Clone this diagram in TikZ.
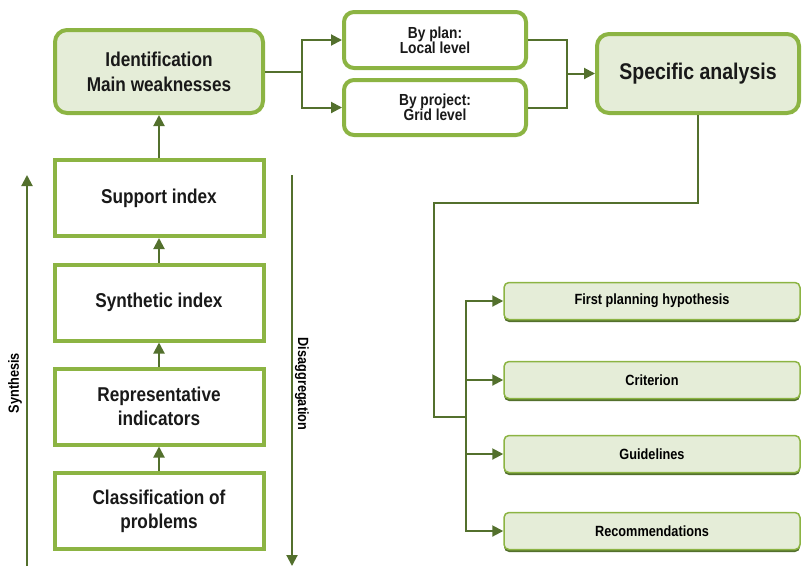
\documentclass[tikz,border=0pt]{standalone}
\usepackage{fontspec}
\setmainfont{Liberation Sans}[FakeStretch=0.86]
\usetikzlibrary{arrows.meta,shadows}
\definecolor{leaf}{HTML}{8CB443}
\definecolor{pale}{HTML}{E5EDD8}
\definecolor{moss}{HTML}{53702D}
\tikzset{
  box/.style={draw=leaf,line width=4pt,align=center,inner sep=0pt,text=black!90,font=\bfseries\fontsize{20}{24}\selectfont},
  softbox/.style={box,rounded corners=12pt,fill=pale},
  stackbox/.style={box,fill=white,minimum width=209pt,minimum height=76pt},
  levelbox/.style={box,rounded corners=10pt,fill=white,minimum width=182pt,minimum height=56pt,font=\bfseries\fontsize{16}{15}\selectfont},
  taskbox/.style={draw=leaf,line width=1.5pt,rounded corners=5pt,fill=pale,minimum width=296pt,minimum height=37pt,
    inner sep=0pt,font=\bfseries\fontsize{14.8}{15}\selectfont,
    drop shadow={shadow xshift=0pt,shadow yshift=-2.5pt,fill=moss,opacity=1}},
  link/.style={draw=moss,line width=2pt},
  flow/.style={link,-{Triangle[length=11pt,width=11pt]}},
  sidelabel/.style={font=\bfseries\fontsize{14.8}{14}\selectfont,inner sep=0pt}
}
\begin{document}
\begin{tikzpicture}[x=1pt,y=-1pt]
   \useasboundingbox (0,0) rectangle (802,566);
   % top row
   \node[softbox,minimum width=208pt,minimum height=83pt,font=\bfseries\fontsize{20}{25}\selectfont] (idf) at (159,71.5) {Identification\\Main weaknesses};
   \node[levelbox] (plan) at (435,40) {By plan:\\Local level};
   \node[levelbox,minimum height=55pt] (proj) at (435,107.5) {By project:\\Grid level};
   \node[softbox,minimum width=202pt,minimum height=79pt,font=\bfseries\fontsize{22.7}{23}\selectfont] (spec) at (698,73.5) {Specific analysis};
   % left stack
   \node[stackbox] (sup) at (159,198) {Support index};
   \node[stackbox] (syn) at (159,302.5) {Synthetic index};
   \node[stackbox] (rep) at (159,406.5) {Representative\\indicators};
   \node[stackbox] (cls) at (159,511) {Classification of\\problems};
   \draw[flow] (cls) -- (rep);
   \draw[flow] (rep) -- (syn);
   \draw[flow] (syn) -- (sup);
   \draw[flow] (sup) -- (idf);
   % side arrows
   \coordinate (synB) at (27,566);
   \coordinate (synT) at (27,175);
   \coordinate (disT) at (292,175);
   \coordinate (disB) at (292,566);
   \draw[flow] (synB) -- (synT);
   \draw[flow] (disT) -- (disB);
   \node[sidelabel,rotate=90] (synlab) at (15,383) {Synthesis};
   \node[sidelabel,rotate=-90] (dislab) at (302,384) {Disaggregation};
   % lower boxes
   \node[taskbox] (hyp) at (652,301) {First planning hypothesis};
   \node[taskbox] (crit) at (652,380) {Criterion};
   \node[taskbox] (guide) at (652,454) {Guidelines};
   \node[taskbox] (rec) at (652,531) {Recommendations};
   % connectors
   \coordinate (split) at (302,71.5);
   \coordinate (merge) at (567,73.5);
   \draw[link] (idf) -- (split);
   \draw[flow] (split) |- (plan);
   \draw[flow] (split) |- (proj);
   \draw[link] (plan) -| (merge);
   \draw[link] (proj) -| (merge);
   \draw[flow] (merge) -- (spec);
   \coordinate (bend) at (434,203);
   \coordinate (foot) at (434,417);
   \coordinate (trunk) at (466,417);
   \draw[link] (spec.south) |- (bend) -- (foot) -- (trunk);
   \foreach \nm in {hyp,crit,guide,rec}
     \draw[flow] (trunk) |- (\nm.west);
\end{tikzpicture}
\end{document}
